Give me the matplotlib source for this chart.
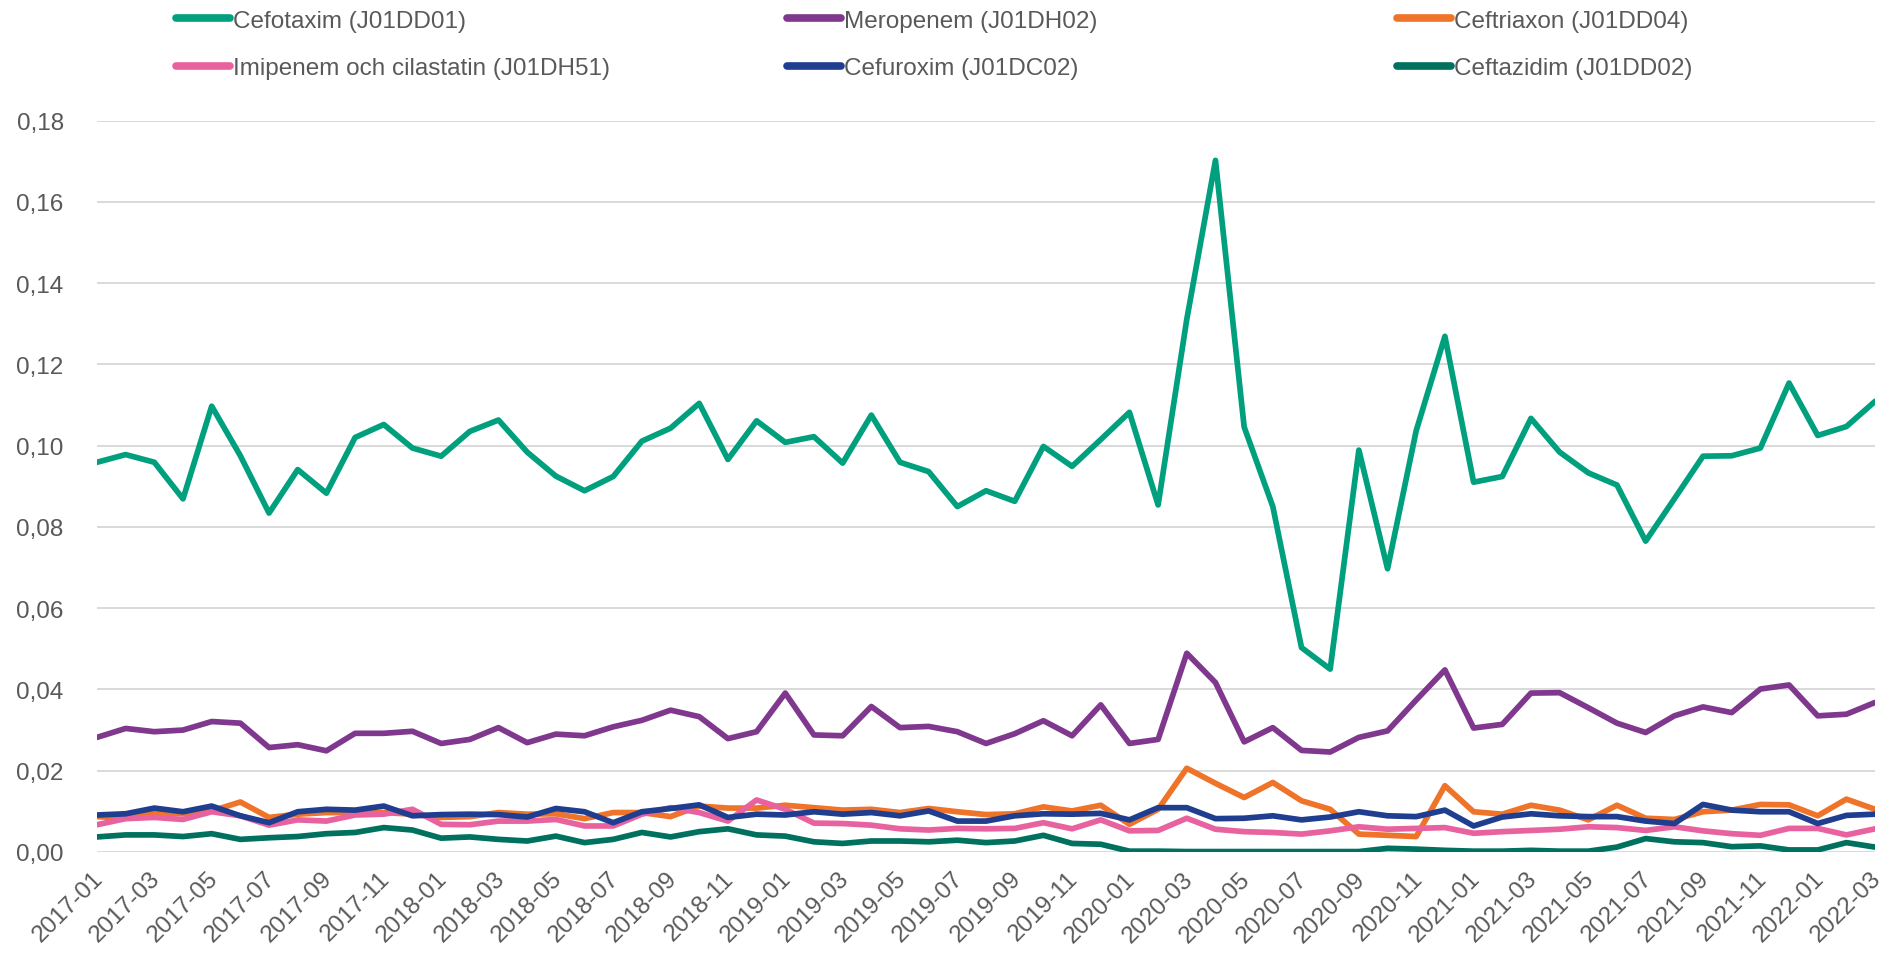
import matplotlib
matplotlib.use("Agg")
import matplotlib.pyplot as plt
import matplotlib.transforms as mtransforms
from matplotlib.ticker import FuncFormatter, FixedLocator

# ---- data ----
months = [f"{y}-{m:02d}" for y in range(2017, 2023) for m in range(1, 13)][:63]

cefotaxim = [0.0959, 0.0978, 0.0959, 0.0869, 0.1097, 0.0975, 0.0834, 0.0941, 0.0883, 0.1020,
             0.1052, 0.0994, 0.0974, 0.1035, 0.1063, 0.0984, 0.0925, 0.0889, 0.0924, 0.1011,
             0.1043, 0.1104, 0.0966, 0.1061, 0.1008, 0.1022, 0.0957, 0.1075, 0.0959, 0.0936,
             0.0850, 0.0889, 0.0863, 0.0998, 0.0949, 0.1015, 0.1082, 0.0854, 0.1311, 0.1702,
             0.1046, 0.0850, 0.0503, 0.0450, 0.0989, 0.0697, 0.1037, 0.1269, 0.0910, 0.0924,
             0.1067, 0.0984, 0.0933, 0.0903, 0.0765, 0.0869, 0.0974, 0.0975, 0.0994, 0.1154,
             0.1025, 0.1047, 0.1109]

meropenem = [0.0282, 0.0304, 0.0296, 0.0300, 0.0321, 0.0317, 0.0257, 0.0264, 0.0249, 0.0292,
             0.0292, 0.0297, 0.0267, 0.0277, 0.0306, 0.0269, 0.0290, 0.0286, 0.0308, 0.0324,
             0.0349, 0.0333, 0.0279, 0.0296, 0.0391, 0.0288, 0.0286, 0.0358, 0.0306, 0.0309,
             0.0296, 0.0267, 0.0291, 0.0323, 0.0286, 0.0362, 0.0267, 0.0277, 0.0489, 0.0417,
             0.0271, 0.0306, 0.0250, 0.0246, 0.0282, 0.0298, 0.0374, 0.0448, 0.0305, 0.0314,
             0.0391, 0.0392, 0.0355, 0.0317, 0.0294, 0.0335, 0.0357, 0.0343, 0.0401, 0.0411,
             0.0335, 0.0339, 0.0368]

ceftriaxon = [0.0087, 0.0083, 0.0097, 0.0094, 0.0101, 0.0123, 0.0085, 0.0093, 0.0097, 0.0097,
              0.0097, 0.0093, 0.0085, 0.0087, 0.0097, 0.0093, 0.0094, 0.0082, 0.0097, 0.0097,
              0.0087, 0.0113, 0.0108, 0.0108, 0.0115, 0.0109, 0.0103, 0.0105, 0.0097, 0.0107,
              0.0099, 0.0092, 0.0094, 0.0111, 0.0101, 0.0115, 0.0068, 0.0105, 0.0206, 0.0169,
              0.0134, 0.0171, 0.0126, 0.0105, 0.0044, 0.0041, 0.0038, 0.0163, 0.0099, 0.0093,
              0.0115, 0.0103, 0.0079, 0.0115, 0.0083, 0.0080, 0.0099, 0.0103, 0.0117, 0.0116,
              0.0089, 0.0130, 0.0105]

imipenem = [0.0067, 0.0082, 0.0085, 0.0080, 0.0099, 0.0089, 0.0066, 0.0079, 0.0076, 0.0091,
            0.0093, 0.0105, 0.0068, 0.0067, 0.0076, 0.0076, 0.0080, 0.0064, 0.0064, 0.0093,
            0.0109, 0.0097, 0.0076, 0.0128, 0.0105, 0.0071, 0.0070, 0.0066, 0.0057, 0.0054,
            0.0058, 0.0057, 0.0058, 0.0072, 0.0057, 0.0079, 0.0052, 0.0053, 0.0083, 0.0056,
            0.0050, 0.0048, 0.0044, 0.0052, 0.0062, 0.0056, 0.0058, 0.0060, 0.0046, 0.0050,
            0.0053, 0.0056, 0.0062, 0.0060, 0.0053, 0.0062, 0.0052, 0.0045, 0.0041, 0.0058,
            0.0058, 0.0042, 0.0057]

cefuroxim = [0.0091, 0.0094, 0.0108, 0.0099, 0.0113, 0.0089, 0.0072, 0.0099, 0.0105, 0.0103,
             0.0113, 0.0089, 0.0092, 0.0093, 0.0092, 0.0086, 0.0107, 0.0099, 0.0072, 0.0099,
             0.0107, 0.0116, 0.0085, 0.0093, 0.0091, 0.0099, 0.0093, 0.0097, 0.0089, 0.0101,
             0.0076, 0.0076, 0.0089, 0.0094, 0.0093, 0.0095, 0.0079, 0.0109, 0.0109, 0.0082,
             0.0083, 0.0089, 0.0079, 0.0086, 0.0099, 0.0089, 0.0087, 0.0103, 0.0064, 0.0086,
             0.0094, 0.0089, 0.0087, 0.0087, 0.0076, 0.0070, 0.0117, 0.0103, 0.0099, 0.0099,
             0.0070, 0.0090, 0.0093]

ceftazidim = [0.0037, 0.0042, 0.0042, 0.0038, 0.0045, 0.0031, 0.0035, 0.0038, 0.0045, 0.0048,
              0.0060, 0.0054, 0.0034, 0.0037, 0.0031, 0.0027, 0.0039, 0.0023, 0.0031, 0.0048,
              0.0037, 0.0050, 0.0057, 0.0042, 0.0039, 0.0025, 0.0021, 0.0027, 0.0027, 0.0025,
              0.0029, 0.0023, 0.0027, 0.0041, 0.0021, 0.0019, 0.0002, 0.0002, 0.0001, 0.0001,
              0.0001, 0.0001, 0.0001, 0.0001, 0.0001, 0.0009, 0.0007, 0.0004, 0.0002, 0.0002,
              0.0004, 0.0002, 0.0002, 0.0012, 0.0033, 0.0025, 0.0023, 0.0013, 0.0015, 0.0005,
              0.0005, 0.0023, 0.0012]

series_names = ["Cefotaxim (J01DD01)", "Meropenem (J01DH02)", "Ceftriaxon (J01DD04)",
                "Imipenem och cilastatin (J01DH51)", "Cefuroxim (J01DC02)", "Ceftazidim (J01DD02)"]
series_values = [cefotaxim, meropenem, ceftriaxon, imipenem, cefuroxim, ceftazidim]
colors = ["#00A07E", "#7F388D", "#EF7328", "#E862A0", "#1F3E8F", "#00705F"]

y_ticks = [0.00, 0.02, 0.04, 0.06, 0.08, 0.10, 0.12, 0.14, 0.16, 0.18]

# ---- plot ----
plt.rcParams['font.family'] = ['Liberation Sans Narrow', 'Liberation Sans', 'DejaVu Sans']
text_color = "#595959"

fig = plt.figure(figsize=(18.83, 9.54), dpi=100)
ax = fig.add_axes([0.0515, 0.1059, 0.9443, 0.7667])

x = list(range(len(months)))
lines = []
for name, vals, c in zip(series_names, series_values, colors):
    ln, = ax.plot(x, vals, color=c, lw=4.1, solid_joinstyle='round',
                  solid_capstyle='round', label=name)
    lines.append(ln)

ax.set_xlim(0, len(months) - 1)
ax.set_ylim(0, 0.18)
ax.yaxis.set_major_locator(FixedLocator(y_ticks))
ax.yaxis.set_major_formatter(FuncFormatter(lambda v, p: f"{v:.2f}".replace(".", ",")))
ax.grid(axis='y', color="#D9D9D9", lw=1.4)
ax.set_axisbelow(True)
for s in ax.spines.values():
    s.set_visible(False)

tick_pos = x[::2]
ax.set_xticks(tick_pos)
ax.set_xticklabels([months[i] for i in tick_pos], rotation=45, ha='right',
                   rotation_mode='anchor')
ax.tick_params(axis='both', length=0, colors=text_color, labelsize=17.5)
ax.tick_params(axis='x', pad=11)
ax.tick_params(axis='y', pad=24)

shift = mtransforms.ScaledTranslation(-5 / 100, 0, fig.dpi_scale_trans)
for lbl in ax.get_xticklabels():
    lbl.set_transform(lbl.get_transform() + shift)

# legend: 3 columns x 2 rows
col_x = [0.0935, 0.418, 0.742]
pairs = [(0, 3), (1, 4), (2, 5)]
for cx, (a, b) in zip(col_x, pairs):
    lg = fig.legend([lines[a], lines[b]], [series_names[a], series_names[b]],
                    loc='upper left', bbox_to_anchor=(cx, 0.989), frameon=False,
                    fontsize=17.5, handlelength=2.2, handletextpad=0.15,
                    labelspacing=1.05, borderpad=0.0, borderaxespad=0.0)
    for t in lg.get_texts():
        t.set_color(text_color)
    for h in lg.legend_handles:
        h.set_linewidth(5.5)

fig.savefig("out.png", dpi=100)
